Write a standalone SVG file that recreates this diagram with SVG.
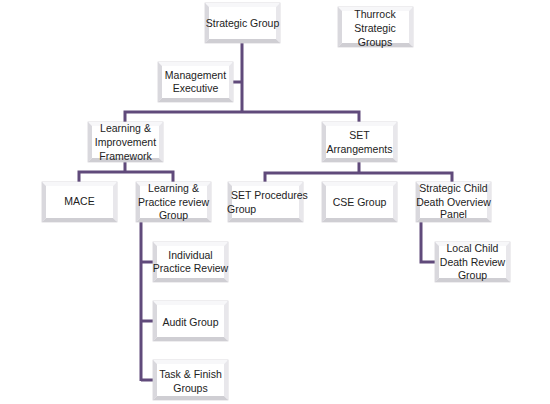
<svg xmlns="http://www.w3.org/2000/svg" xmlns:xlink="http://www.w3.org/1999/xlink" width="550" height="404" viewBox="0 0 550 404">
<style>
.t{font-family:"Liberation Sans",Arial,sans-serif;font-size:10.5px;fill:#222;text-anchor:middle}
.ts{text-anchor:start}
.c{fill:none;stroke:#604a7b;stroke-width:3}
</style>
<defs>
<g id="box">
<rect x="0" y="0" width="75" height="40" fill="#ffffff" stroke="#d4d3d8" stroke-width="0.8"/>
<polygon points="0,0 75,0 71,4 4,4" fill="#f7f7f9"/>
<polygon points="0,0 4,4 4,36 0,40" fill="#d9d8dd"/>
<polygon points="75,0 75,40 71,36 71,4" fill="#e8e7eb"/>
<polygon points="0,40 4,36 71,36 75,40" fill="#cfced3"/>
<rect x="4" y="4" width="67" height="32" fill="#ffffff"/>
</g>
</defs>
<rect width="550" height="404" fill="#ffffff"/>
<g id="connectors">
<path class="c" d="M242,43 V112 M233,82 H242 M125,122 V112 H359 V122"/>
<path class="c" d="M125,162 V172 M79,182 V172 H173 V182"/>
<path class="c" d="M359,162 V173 M265,182 V173 H452 V182"/>
<path class="c" d="M141,222 V381 M141,262 H153 M141,321 H153 M141,380 H153"/>
<path class="c" d="M421,222 V262 H435"/>
</g>
<g id="strategic-group"><use xlink:href="#box" x="205" y="3"/><text class="t" x="242.5" y="27">Strategic Group</text></g>
<g id="thurrock"><use xlink:href="#box" x="338" y="7"/><text class="t" x="375" y="18">Thurrock</text><text class="t" x="375" y="32">Strategic</text><text class="t" x="375" y="46">Groups</text></g>
<g id="management-executive"><use xlink:href="#box" x="158" y="62"/><text class="t" x="195.5" y="79">Management</text><text class="t" x="195.5" y="92">Executive</text></g>
<g id="learning-improvement"><use xlink:href="#box" x="88" y="122"/><text class="t" x="125.5" y="132">Learning &amp;</text><text class="t" x="125.5" y="146">Improvement</text><text class="t" x="125.5" y="160">Framework</text></g>
<g id="set-arrangements"><use xlink:href="#box" x="322" y="122"/><text class="t" x="359.5" y="139">SET</text><text class="t" x="359.5" y="153">Arrangements</text></g>
<g id="mace"><use xlink:href="#box" x="42" y="182"/><text class="t" x="79.5" y="205">MACE</text></g>
<g id="learning-practice"><use xlink:href="#box" x="136" y="182"/><text class="t" x="173.5" y="192">Learning &amp;</text><text class="t" x="173.5" y="206">Practice review</text><text class="t" x="173.5" y="219">Group</text></g>
<g id="set-procedures"><use xlink:href="#box" x="228" y="182"/><text class="t ts" x="231" y="199">SET Procedures</text><text class="t ts" x="227" y="213">Group</text></g>
<g id="cse-group"><use xlink:href="#box" x="322" y="182"/><text class="t" x="359.5" y="206">CSE Group</text></g>
<g id="strategic-child-death"><use xlink:href="#box" x="416" y="182"/><text class="t" x="453.5" y="192">Strategic Child</text><text class="t" x="453.5" y="206">Death Overview</text><text class="t" x="453.5" y="218">Panel</text></g>
<g id="local-child-death"><use xlink:href="#box" x="435" y="242"/><text class="t" x="472.5" y="252">Local Child</text><text class="t" x="472.5" y="266">Death Review</text><text class="t" x="472.5" y="279">Group</text></g>
<g id="individual-practice"><use xlink:href="#box" x="153" y="242"/><text class="t" x="190.5" y="259">Individual</text><text class="t" x="190.5" y="272">Practice Review</text></g>
<g id="audit-group"><use xlink:href="#box" x="153" y="301"/><text class="t" x="190.5" y="326">Audit Group</text></g>
<g id="task-finish"><use xlink:href="#box" x="153" y="360"/><text class="t" x="190.5" y="378">Task &amp; Finish</text><text class="t" x="190.5" y="392">Groups</text></g>
</svg>
